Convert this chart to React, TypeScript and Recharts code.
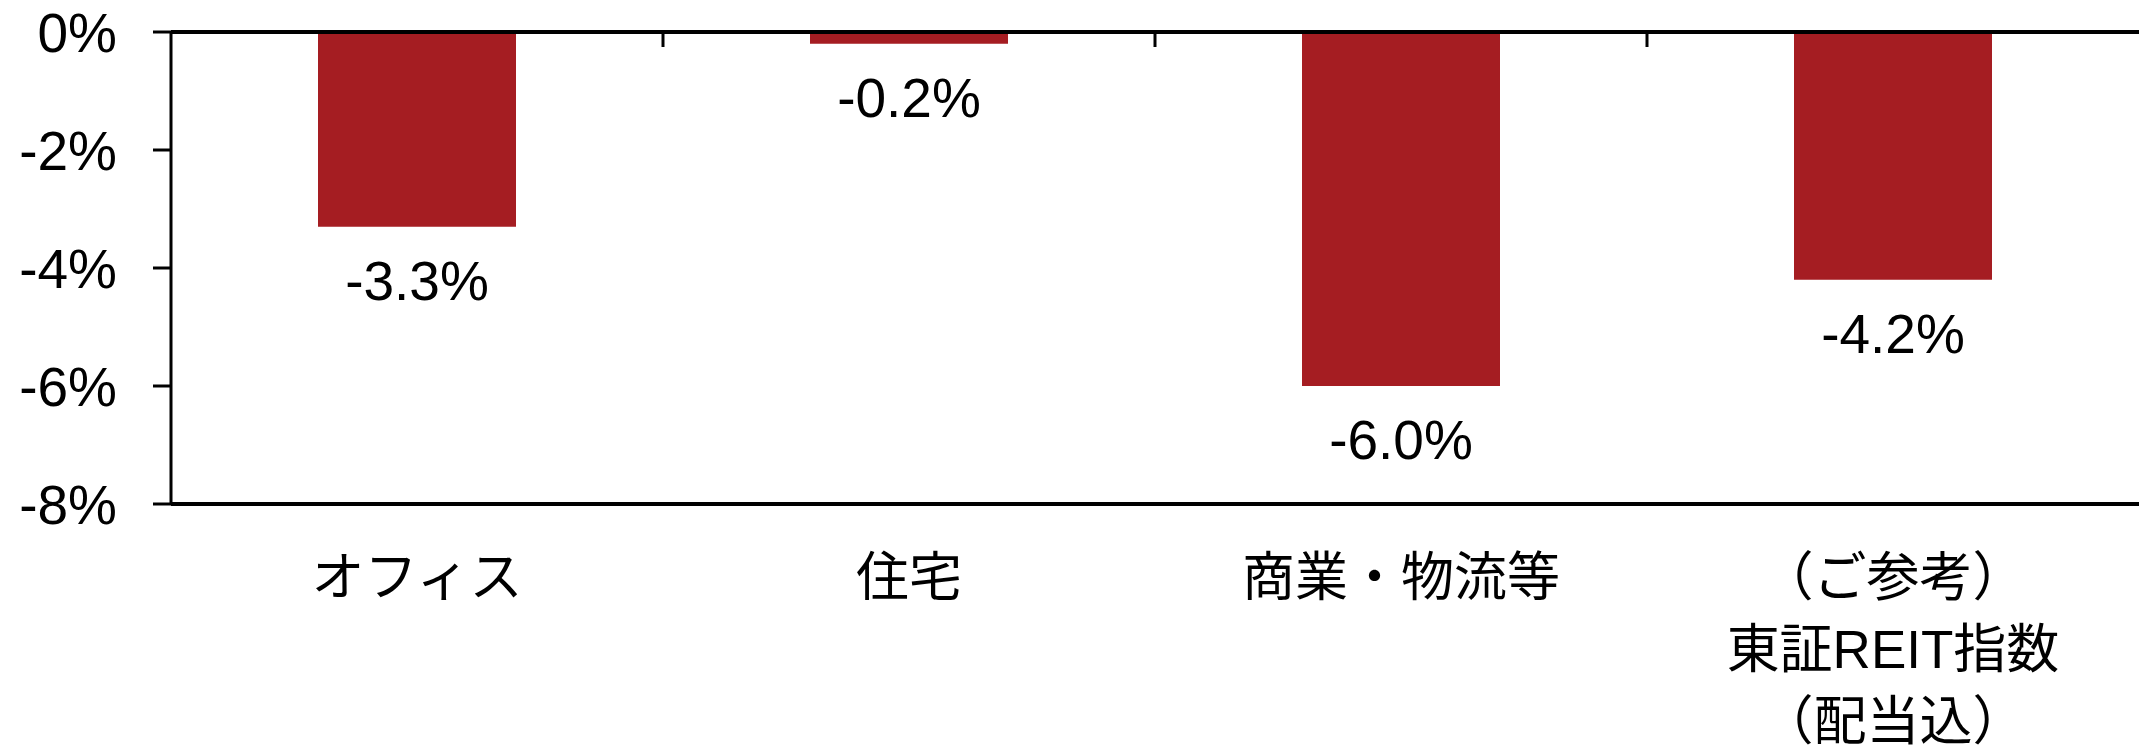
import { BarChart, Bar, XAxis, YAxis, ReferenceLine, LabelList } from "recharts";

const categories = ["オフィス", "住宅", "商業・物流等", "（ご参考）\n東証REIT指数\n（配当込）"];
const values = [-3.3, -0.2, -6.0, -4.2];
const yTicks = [0, -2, -4, -6, -8];
const boundaryTicks = [1, 2, 3];

const data = categories.map((name, i) => ({ name, value: values[i], pos: i + 0.5 }));

const FONT = "'Liberation Sans', Arial, 'Noto Sans CJK JP', sans-serif";
const RED = "#A51D22";

function CategoryTick(props: any) {
  const { x, y, payload } = props;
  const lines = String(payload.value).split("\n");
  return (
    <text x={x} y={y} textAnchor="middle" fontFamily={FONT} fontSize={53} fill="#000">
      {lines.map((l, i) => (
        <tspan key={i} x={x} y={y + 73 + i * 72} dominantBaseline="central">
          {l}
        </tspan>
      ))}
    </text>
  );
}

// boundary ticks only need the tick line, no label
function NoLabel() {
  return <g />;
}

function ValueLabel(props: any) {
  const { x, y, width, height, value } = props;
  const bottom = Math.max(y, y + height);
  return (
    <text x={x + width / 2} y={bottom + 54} textAnchor="middle" dominantBaseline="central" fontFamily={FONT} fontSize={55} fill="#000">
      {`${Number(value).toFixed(1)}%`}
    </text>
  );
}

export default function App() {
  return (
    <div style={{ position: "absolute", left: 0, top: 0, background: "#fff" }}>
      <BarChart width={2142} height={751} data={data} margin={{ top: 32, right: 3, left: 0, bottom: 0 }}>
        <XAxis
          xAxisId="cat"
          dataKey="name"
          height={247}
          axisLine={{ stroke: "#000", strokeWidth: 4 }}
          tickLine={false}
          tickSize={0}
          tickMargin={0}
          tick={<CategoryTick />}
          interval={0}
        />
        <XAxis
          xAxisId="grid"
          dataKey="pos"
          type="number"
          domain={[0, 4]}
          ticks={boundaryTicks}
          interval={0}
          allowDataOverflow
          orientation="top"
          height={1}
          mirror
          tick={<NoLabel />}
          tickSize={15}
          tickLine={{ stroke: "#000", strokeWidth: 3 }}
          axisLine={false}
        />
        <YAxis
          domain={[-8, 0]}
          ticks={yTicks}
          width={171}
          tickSize={18}
          tickMargin={36}
          tickLine={{ stroke: "#000", strokeWidth: 3 }}
          axisLine={{ stroke: "#000", strokeWidth: 3 }}
          tickFormatter={(v) => `${v}%`}
          tick={{ fontSize: 55, fill: "#000", fontFamily: FONT }}
        />
        <YAxis
          yAxisId="r"
          orientation="right"
          domain={[-8, 0]}
          width={0}
          tick={false}
          tickLine={false}
          axisLine={{ stroke: "#000", strokeWidth: 3.5 }}
        />
        <ReferenceLine xAxisId="cat" y={0} stroke="#000" strokeWidth={4} />
        <Bar xAxisId="cat" dataKey="value" fill={RED} barSize={198} isAnimationActive={false}>
          <LabelList dataKey="value" content={<ValueLabel />} />
        </Bar>
      </BarChart>
    </div>
  );
}
